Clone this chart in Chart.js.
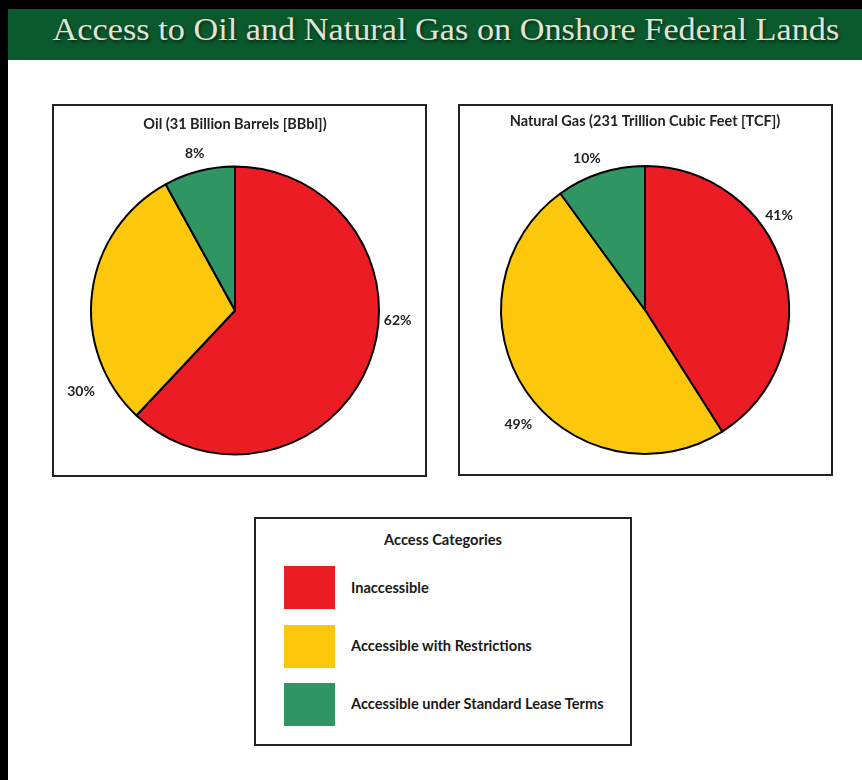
<!DOCTYPE html>
<html>
<head>
<meta charset="utf-8">
<script src="https://cdn.jsdelivr.net/npm/chart.js@4.4.0/dist/chart.umd.min.js"></script>
<style>
  body { margin: 0; width: 862px; height: 780px; background: #fff; position: relative; overflow: hidden; font-family: Lato, "Open Sans", sans-serif; }
  #frame-top { position: absolute; left: 0; top: 0; width: 862px; height: 9px; background: #000; }
  #frame-left { position: absolute; left: 0; top: 0; width: 8px; height: 780px; background: #000; }
  #header { position: absolute; left: 8px; top: 9px; width: 854px; height: 51px; background: #0b5a2e;
            color: #e2e3d8; font-family: "Liberation Serif", "Times New Roman", serif; font-size: 31px;
            line-height: 42px; text-align: center; text-shadow: 1px 2px 3px #052610; }
  #header span { display: inline-block; transform: scaleX(1.105); margin-left: 22px; }
  .box { position: absolute; border: 2px solid #222; background: #fff; }
  #box1 { left: 52px; top: 104px; width: 371px; height: 369px; }
  #box2 { left: 458px; top: 104px; width: 371px; height: 368px; }
  .box canvas { display: block; }
  #legend { left: 254px; top: 517px; width: 374px; height: 225px; color: #1a1a1a; }
  #legend .title { position: absolute; left: 0; width: 100%; top: 11px; text-align: center; font-weight: bold; font-size: 14.7px; }
  #legend .swatch { position: absolute; left: 28px; width: 51px; height: 43px; }
  #legend .item { position: absolute; left: 95px; font-weight: bold; font-size: 14.6px; line-height: 20px; }
</style>
</head>
<body>
<div id="frame-top"></div>
<div id="frame-left"></div>
<div id="header"><span>Access to Oil and Natural Gas on Onshore Federal Lands</span></div>
<div class="box" id="box1"><canvas id="chart-1" width="371" height="369"></canvas></div>
<div class="box" id="box2"><canvas id="chart-2" width="371" height="368"></canvas></div>
<div class="box" id="legend"><div class="title">Access Categories</div></div>
<script>
// access categories, same order in both pies (clockwise from 12 o'clock)
const categories = ['Inaccessible', 'Accessible with Restrictions', 'Accessible under Standard Lease Terms'];
const oilShares = [62, 30, 8];   // percent of 31 BBbl
const gasShares = [41, 49, 10];  // percent of 231 TCF
const sliceColors = ['#ec1c24', '#fdc70c', '#2f9563'];
const oilTitle = 'Oil (31 Billion Barrels [BBbl])';
const gasTitle = 'Natural Gas (231 Trillion Cubic Feet [TCF])';

const fontFamily = 'Lato, "Open Sans", sans-serif';

// percent labels just outside the rim
const pctLabels = {
  id: 'pctLabels',
  afterDatasetsDraw(chart, args, opts) {
    const ctx = chart.ctx;
    const meta = chart.getDatasetMeta(0);
    const data = chart.data.datasets[0].data;
    ctx.save();
    ctx.font = 'bold 14px ' + fontFamily;
    ctx.fillStyle = '#222';
    ctx.textAlign = 'center';
    ctx.textBaseline = 'middle';
    meta.data.forEach(function (arc, i) {
      const a = (arc.startAngle + arc.endAngle) / 2 + opts.shift[i] * Math.PI / 180;
      const r = arc.outerRadius + opts.gap[i];
      ctx.fillText(data[i] + '%', arc.x + Math.cos(a) * r, arc.y + Math.sin(a) * r);
    });
    ctx.restore();
  }
};

function makePie(id, title, values, pad, titlePad, shift, gap) {
  const ctx = document.getElementById(id).getContext('2d');
  return new Chart(ctx, {
    type: 'pie',
    data: {
      labels: categories,
      datasets: [{
        data: values,
        backgroundColor: sliceColors,
        borderColor: '#000',
        borderWidth: 2
      }]
    },
    options: {
      responsive: false,
      animation: false,
      events: [],
      layout: { padding: pad },
      plugins: {
        legend: { display: false },
        tooltip: { enabled: false },
        title: {
          display: true,
          text: title,
          color: '#222',
          font: { family: fontFamily, size: 14.5, weight: 'bold' },
          padding: titlePad
        },
        pctLabels: { shift: shift, gap: gap }
      }
    },
    plugins: [pctLabels]
  });
}

const myChart1 = makePie('chart-1', oilTitle, oilShares,
  { left: 36, right: 45, top: 0, bottom: 19 }, { top: 10, bottom: 31.6 },
  [-18, -35, 0], [19, 30, 18]);
const myChart2 = makePie('chart-2', gasTitle, gasShares,
  { left: 40, right: 41, top: 0, bottom: 19 }, { top: 7, bottom: 34.6 },
  [-19, -8, -3], [20, 27, 18]);

// legend box built from the same categories / colours
const legend = document.getElementById('legend');
categories.forEach(function (name, i) {
  const sw = document.createElement('div');
  sw.className = 'swatch';
  sw.style.top = (47 + i * 58.5) + 'px';
  sw.style.background = sliceColors[i];
  legend.appendChild(sw);
  const lab = document.createElement('div');
  lab.className = 'item';
  lab.style.top = (59 + i * 58) + 'px';
  lab.textContent = name;
  legend.appendChild(lab);
});
</script>
</body>
</html>
